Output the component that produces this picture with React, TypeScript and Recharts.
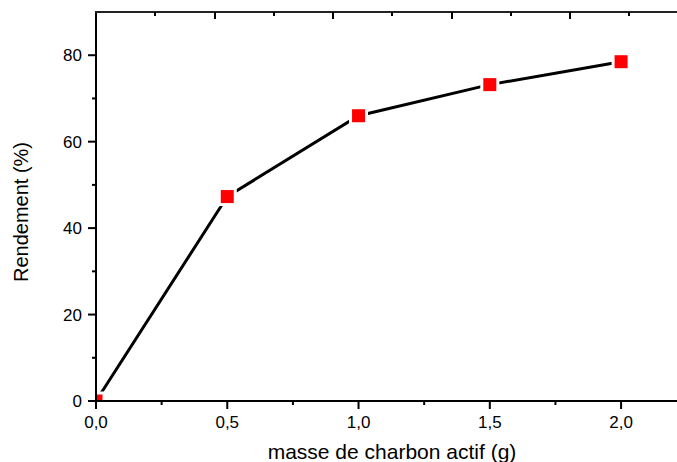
import { LineChart, Line, XAxis, YAxis } from 'recharts';

// masse de charbon actif (g) vs rendement (%)
const masses = [0, 0.5, 1.0, 1.5, 2.0];
const rendement = [0, 47.3, 66.0, 73.2, 78.5];

const xTicks = [0, 0.25, 0.5, 0.75, 1.0, 1.25, 1.5, 1.75, 2.0];
const Y_MAX = 90;
const yTicks = [0, 10, 20, 30, 40, 50, 60, 70, 80];
// top frame ticks (unlabelled), in frame units
const topTicks = [0.5, 1, 1.5, 2, 2.5, 3, 3.5, 4, 4.5];

const data = masses.map((m, i) => ({ masse: m, rendement: rendement[i] }));

const W = 677;
const H = 462;
const LEFT = 96;
const TOP = 12;
const XAXIS_H = 61;
const PLOT_BOTTOM = H - XAXIS_H;
const PLOT_W = W - LEFT;
const TOP_UNIT_PX = 118.5;

const FONT = "'Liberation Sans', Arial, sans-serif";

const fmt = (v: number) => v.toFixed(1).replace('.', ',');
const isMajor = (v: number, step: number) => Math.abs(v / step - Math.round(v / step)) < 1e-6;

function BottomTick({ x, y, payload }: any) {
  const v = payload.value;
  const major = isMajor(v, 0.5);
  return (
    <g>
      <line x1={x} x2={x} y1={y} y2={y + (major ? 8 : 4)} stroke="#000" strokeWidth={2} />
      {major && (
        <text x={x} y={y + 27} textAnchor="middle" fontSize={17} fontFamily={FONT} fill="#000">
          {fmt(v)}
        </text>
      )}
    </g>
  );
}

function LeftTick({ x, y, payload }: any) {
  const v = payload.value;
  const major = isMajor(v, 20);
  return (
    <g>
      <line x1={x - (major ? 8 : 4)} x2={x} y1={y} y2={y} stroke="#000" strokeWidth={2} />
      {major && (
        <text x={x - 14} y={y + 6} textAnchor="end" fontSize={17} fontFamily={FONT} fill="#000">
          {v}
        </text>
      )}
    </g>
  );
}

function SquareDot({ cx, cy }: any) {
  if (cx == null || cy == null) return null;
  return (
    <g clipPath="url(#plot-clip)">
      <rect x={cx - 9.5} y={cy - 9.5} width={19} height={19} fill="#fff" />
      <rect x={cx - 6.5} y={cy - 6.5} width={13} height={13} fill="#ff0000" />
    </g>
  );
}

// top edge of the frame, laid over the chart with inward ticks
function TopFrame() {
  return (
    <>
      <div
        style={{
          position: 'absolute',
          left: LEFT - 1,
          top: TOP - 1,
          width: PLOT_W + 1,
          height: 2,
          background: '#222',
        }}
      />
      {topTicks.map((t) => (
        <div
          key={t}
          style={{
            position: 'absolute',
            left: LEFT + t * TOP_UNIT_PX - 1,
            top: TOP,
            width: 2,
            height: isMajor(t, 1) ? 7 : 4,
            background: '#000',
          }}
        />
      ))}
    </>
  );
}

export default function App() {
  return (
    <div style={{ position: 'absolute', left: 0, top: 0, width: W, height: H, background: '#fff' }}>
      <LineChart
        width={W}
        height={H}
        data={data}
        margin={{ top: TOP, right: 0, bottom: 0, left: 0 }}
      >
        <defs>
          <clipPath id="plot-clip">
            <rect x={LEFT + 1} y={TOP + 1} width={PLOT_W - 1} height={PLOT_BOTTOM - TOP - 2} />
          </clipPath>
        </defs>
        <Line
          type="linear"
          dataKey="rendement"
          stroke="#000"
          strokeWidth={3}
          dot={(p: any) => <SquareDot key={p.index} {...p} />}
          activeDot={false}
          isAnimationActive={false}
        />
        <XAxis
          dataKey="masse"
          type="number"
          domain={[0, 2.213]}
          ticks={xTicks}
          interval={0}
          height={XAXIS_H}
          tickSize={0}
          tickMargin={0}
          tickLine={false}
          tick={<BottomTick />}
          axisLine={{ stroke: '#000', strokeWidth: 2 }}
        />
        <YAxis
          type="number"
          domain={[0, Y_MAX]}
          ticks={yTicks}
          interval={0}
          width={LEFT}
          tickSize={0}
          tickMargin={0}
          tickLine={false}
          tick={<LeftTick />}
          axisLine={{ stroke: '#000', strokeWidth: 2 }}
        />
        <text x={392} y={459} textAnchor="middle" fontSize={21} fontFamily={FONT} fill="#000">
          masse de charbon actif (g)
        </text>
        <text
          x={28}
          y={212}
          textAnchor="middle"
          fontSize={20}
          fontFamily={FONT}
          fill="#000"
          transform="rotate(-90, 28, 212)"
        >
          Rendement (%)
        </text>
      </LineChart>
      <TopFrame />
    </div>
  );
}
